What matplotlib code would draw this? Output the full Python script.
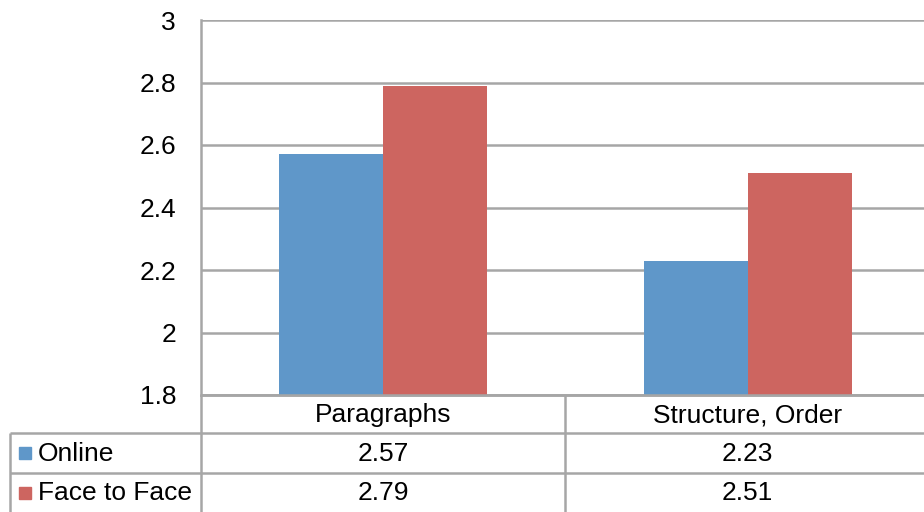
"""Grouped bar chart with a data table underneath, Online vs Face to Face."""

import matplotlib
matplotlib.use('Agg')
from matplotlib import pyplot
import numpy

categories = ['Paragraphs', 'Structure, Order']
series_names = ['Online', 'Face to Face']
online = [2.57, 2.23]
face_to_face = [2.79, 2.51]
yticks = [1.8, 2.0, 2.2, 2.4, 2.6, 2.8, 3.0]
ytick_labels = ['1.8', '2', '2.2', '2.4', '2.6', '2.8', '3']

colors = ['#5f97c9', '#cd6560']
grid_color = '#a6a6a6'

W, H = 924, 512
pyplot.rc('font', family=['Liberation Sans', 'DejaVu Sans'], size=19)
fig = pyplot.figure(figsize=(W / 100, H / 100), dpi=100)

# Plot area in pixel terms (runs a little past the right edge).
x0, x1 = 201, 930
ytop, ybot = 20, 395
ax = fig.add_axes([x0 / W, 1 - ybot / H, (x1 - x0) / W, (ybot - ytop) / H])

n = len(categories)
x = numpy.arange(n)
width = 0.286
values = [online, face_to_face]
for i, (vals, color) in enumerate(zip(values, colors)):
    offset = (i - 0.5) * width
    ax.bar(x + offset, numpy.array(vals) - 1.8, width, bottom=1.8,
           color=color, zorder=3)

ax.set_xlim(-0.5, n - 0.5)
ax.set_ylim(1.8, 3.0)
ax.set_yticks(yticks)
ax.set_yticklabels(ytick_labels)
ax.set_xticks([])
ax.tick_params(axis='y', length=0, pad=18)
ax.grid(axis='y', color=grid_color, linewidth=1.8, zorder=0)
for side in ['top', 'right']:
    ax.spines[side].set_visible(False)
for side in ['left', 'bottom']:
    ax.spines[side].set_color(grid_color)
    ax.spines[side].set_linewidth(1.8)

# Data table below the plot area, drawn on an overlay in pixel units.
tab = fig.add_axes([0, 0, 1, 1], zorder=5)
tab.set_xlim(0, W)
tab.set_ylim(H, 0)
tab.axis('off')

col_edges = [x0, 565, x1]
row_edges = [ybot, 433, 473, 512]
table_left = 10
line_kw = dict(color=grid_color, linewidth=1.8, solid_capstyle='butt')

# Horizontal rules.
tab.plot([x0, x1], [row_edges[0]] * 2, **line_kw)
for yr in row_edges[1:3]:
    tab.plot([table_left, x1], [yr, yr], **line_kw)
# Vertical rules.
for xc in col_edges[:2]:
    tab.plot([xc, xc], [row_edges[0], H], **line_kw)
tab.plot([table_left, table_left], [row_edges[1], H], **line_kw)

# Column headers.
for j, cat in enumerate(categories):
    xc = (col_edges[j] + col_edges[j + 1]) / 2
    yc = (row_edges[0] + row_edges[1]) / 2
    tab.text(xc, yc + 1, cat, ha='center', va='center')

# Rows with legend keys and values.
for i, (name, vals, color) in enumerate(zip(series_names, values, colors)):
    yc = (row_edges[i + 1] + row_edges[i + 2]) / 2
    tab.add_patch(pyplot.Rectangle((19, yc - 6), 12, 12, color=color))
    tab.text(38, yc + 1, name, ha='left', va='center')
    for j, v in enumerate(vals):
        xc = (col_edges[j] + col_edges[j + 1]) / 2
        tab.text(xc, yc + 1, f'{v:.2f}', ha='center', va='center')

fig.savefig('out.png', dpi=100)
